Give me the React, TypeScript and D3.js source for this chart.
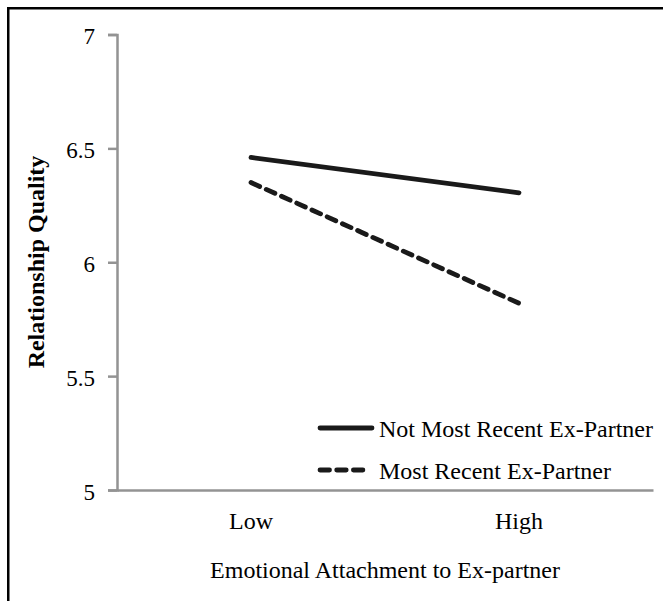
import React, { useEffect, useRef } from 'react';
import * as d3 from 'd3';

// data
const categories = ['Low', 'High'];
const notMostRecent = [6.46, 6.305];
const mostRecent = [6.35, 5.82];
const yTicks = [5, 5.5, 6, 6.5, 7];
const seriesNames = ['Not Most Recent Ex-Partner', 'Most Recent Ex-Partner'];

const FONT = "'Liberation Serif', 'Times New Roman', serif";
const DASH = '9.5,7.2';
const LINE_W = 4.8;

const App = () => {
  const ref = useRef<SVGSVGElement | null>(null);

  useEffect(() => {
    if (ref.current) draw();
  }, []);

  const draw = () => {
    const svg = d3.select(ref.current);
    svg.selectAll('*').remove();

    // outer frame
    svg.append('rect')
      .attr('x', 8.25)
      .attr('y', 8.25)
      .attr('width', 700)
      .attr('height', 700)
      .attr('fill', 'none')
      .attr('stroke', '#000')
      .attr('stroke-width', 2.5);

    const x = d3.scaleBand().domain(categories).range([117, 653]);
    const y = d3.scaleLinear().domain([5, 7]).range([490, 34.5]);
    const cx = (c: string) => (x(c) as number) + x.bandwidth() / 2;

    const axisColor = '#939393';

    // y axis
    const yAxis = svg.append('g')
      .attr('transform', `translate(${x.range()[0]},0)`)
      .call(d3.axisLeft(y).tickValues(yTicks).tickSize(9).tickPadding(13).tickFormat(d => `${d}`));
    yAxis.select('.domain').attr('stroke', axisColor).attr('stroke-width', 2.5);
    yAxis.selectAll('.tick line').attr('stroke', axisColor).attr('stroke-width', 2.5);
    yAxis.selectAll('.tick text')
      .attr('dy', '0.4em')
      .style('font-family', FONT)
      .style('font-size', '23px')
      .style('fill', '#000');

    // x axis
    const xAxis = svg.append('g')
      .attr('transform', `translate(0,${y(5)})`)
      .call(d3.axisBottom(x).tickSize(0).tickSizeOuter(0).tickPadding(0));
    xAxis.select('.domain').attr('stroke', axisColor).attr('stroke-width', 2.5);
    xAxis.selectAll('.tick text')
      .attr('dy', 0)
      .attr('y', 39)
      .style('font-family', FONT)
      .style('font-size', '24px')
      .style('fill', '#000');

    // lines
    const line = d3.line<number>()
      .x((_, i) => cx(categories[i]))
      .y(d => y(d));

    svg.append('path')
      .attr('d', line(notMostRecent))
      .attr('fill', 'none')
      .attr('stroke', '#1a1a1a')
      .attr('stroke-width', LINE_W)
      .attr('stroke-linecap', 'round');

    svg.append('path')
      .attr('d', line(mostRecent))
      .attr('fill', 'none')
      .attr('stroke', '#1a1a1a')
      .attr('stroke-width', LINE_W)
      .attr('stroke-linecap', 'round')
      .attr('stroke-dasharray', DASH);

    // legend
    const legend = svg.append('g');
    const items = [
      { name: seriesNames[0], dash: null, y: 428, len: 54 },
      { name: seriesNames[1], dash: DASH, y: 470, len: 51 }
    ];
    items.forEach(it => {
      legend.append('line')
        .attr('x1', 320)
        .attr('x2', 318 + it.len)
        .attr('y1', it.y)
        .attr('y2', it.y)
        .attr('stroke', '#1a1a1a')
        .attr('stroke-width', LINE_W)
        .attr('stroke-linecap', 'round')
        .attr('stroke-dasharray', it.dash);
      legend.append('text')
        .attr('x', 379)
        .attr('y', it.y + 9)
        .style('font-family', FONT)
        .style('font-size', '24px')
        .style('fill', '#000')
        .text(it.name);
    });

    // axis titles
    svg.append('text')
      .attr('x', (x.range()[0] + x.range()[1]) / 2)
      .attr('y', 578)
      .attr('text-anchor', 'middle')
      .style('font-family', FONT)
      .style('font-size', '24px')
      .style('fill', '#000')
      .text('Emotional Attachment to Ex-partner');

    svg.append('text')
      .attr('transform', `translate(44,262) rotate(-90)`)
      .attr('text-anchor', 'middle')
      .style('font-family', FONT)
      .style('font-size', '24px')
      .style('font-weight', 'bold')
      .style('fill', '#000')
      .text('Relationship Quality');
  };

  return (
    <svg
      ref={ref}
      width={663}
      height={601}
      style={{ position: 'absolute', left: 0, top: 0, background: '#fff' }}
    />
  );
};

export default App;
